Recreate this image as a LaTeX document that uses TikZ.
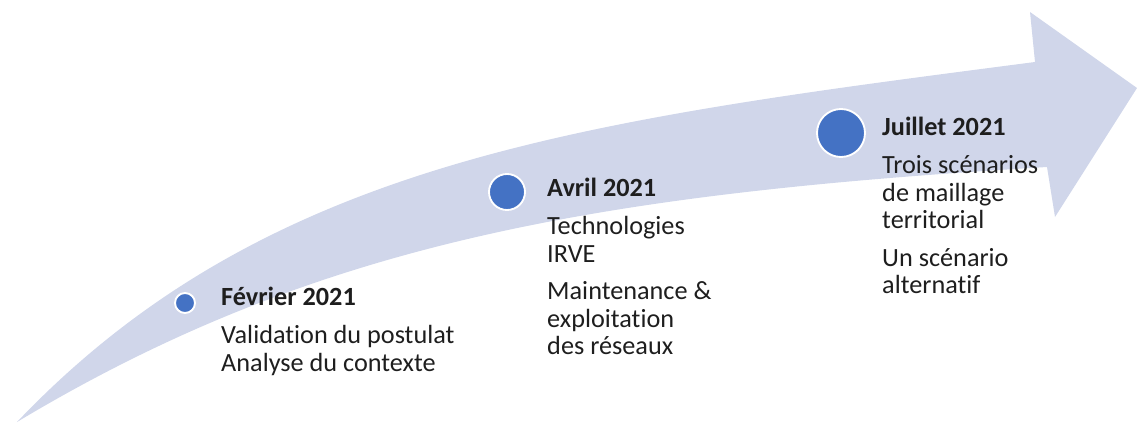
\documentclass[tikz,border=0pt]{standalone}
\usepackage{fontspec}
\setmainfont{Carlito}[Ligatures=NoCommon]
\usetikzlibrary{positioning}
\definecolor{bandlilac}{RGB}{208,214,234}
\definecolor{dotblue}{RGB}{68,114,196}
\definecolor{textdark}{RGB}{30,30,30}

\begin{document}
\begin{tikzpicture}[
  dot/.style={circle, fill=dotblue, draw=white, line width=1.6pt, inner sep=0pt},
  stage/.style={anchor=north west, inner sep=0pt, align=left, text=textdark,
                font=\fontsize{22.4}{23.5}\selectfont}
]
\useasboundingbox (0,0) rectangle (34.11,12.69);

%% Curved band ending in the arrow head
\fill[bandlilac] (0.51,0.03) .. controls (8.01,7.905) and (17.55,9.075) .. (31.05,10.83)
  -- (30.90,12.33) -- (34.11,10.05) -- (31.65,6.18) -- (31.41,7.68)
  .. controls (17.91,6.87) and (9.51,5.43) .. cycle;

%% Milestone dots
\node[dot, minimum size=0.60cm] (feb) at (5.55,3.60) {};
\node[dot, minimum size=1.08cm] (apr) at (15.21,6.93) {};
\node[dot, minimum size=1.44cm] (jul) at (25.23,8.70) {};

%% Milestone texts
\node[stage] (febtxt) at (6.63,4.07)
  {\textbf{Février 2021}\\[8.5pt]Validation du postulat\\Analyse du contexte};
\node[stage] (aprtxt) at (16.41,7.34)
  {\textbf{Avril 2021}\\[8.5pt]Technologies\\IRVE\\[8.5pt]Maintenance \&\\exploitation\\des réseaux};
\node[stage] (jultxt) at (26.46,9.17)
  {\textbf{Juillet 2021}\\[8.5pt]Trois scénarios\\de maillage\\territorial\\[8.5pt]Un scénario\\alternatif};
\end{tikzpicture}
\end{document}
